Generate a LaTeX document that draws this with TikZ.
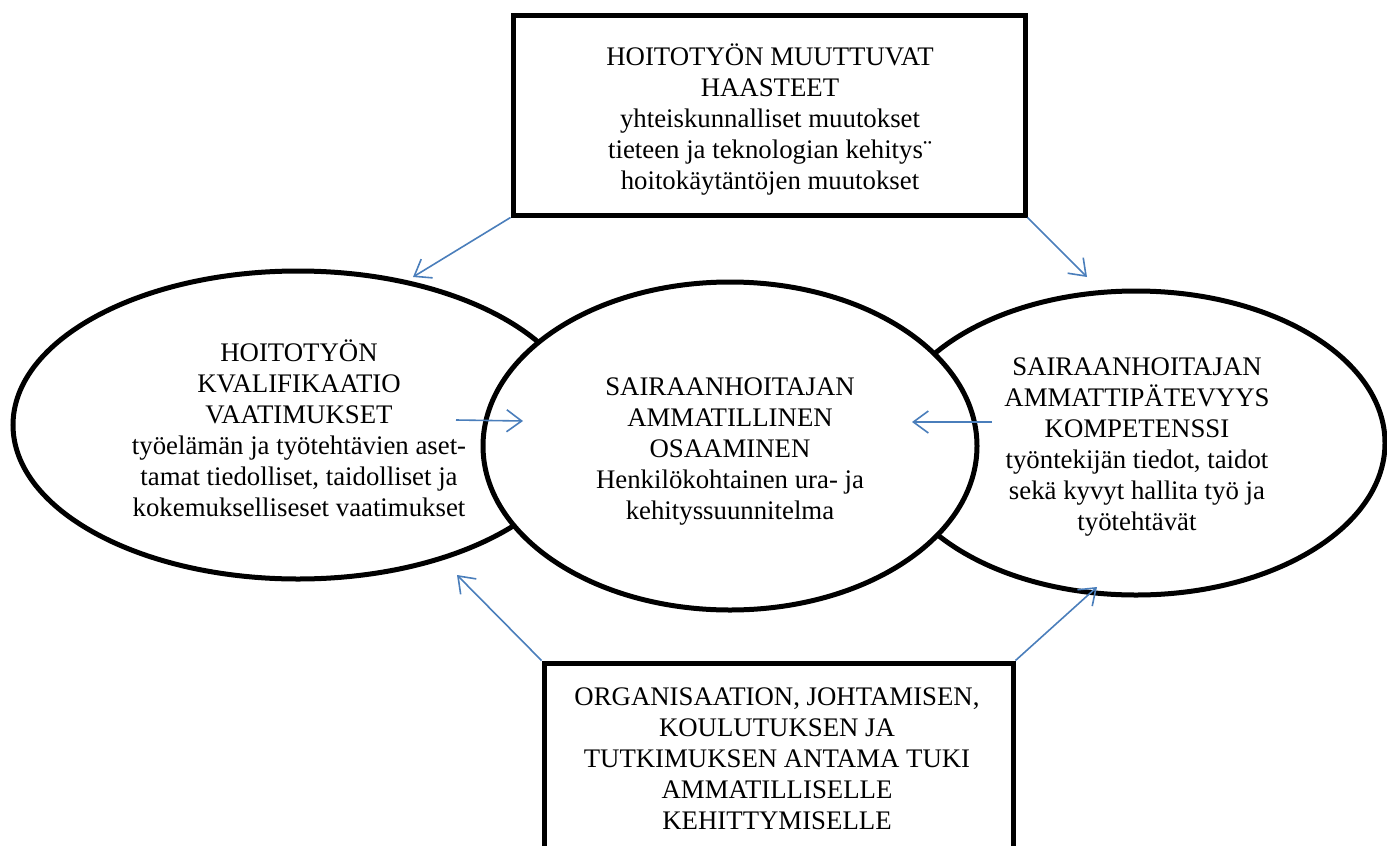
\documentclass[tikz,border=0pt]{standalone}
\usepackage{fontspec}
\setmainfont{Liberation Serif}
\usetikzlibrary{shapes.geometric,arrows.meta}
\definecolor{arrowblue}{RGB}{74,126,187}
\begin{document}
\begin{tikzpicture}[x=1pt,y=-1pt,
  shapeline/.style={draw=black,line width=5pt,fill=white,inner sep=0pt},
  oval/.style={shapeline,ellipse},
  boxnode/.style={shapeline,rectangle},
  txt/.style={align=center,font=\fontsize{26.8}{31}\selectfont,inner sep=0pt,anchor=base},
  conn/.style={draw=arrowblue,line width=1.6pt,-{Straight Barb[length=15pt,width=22pt,line width=1.6pt]}}]
\useasboundingbox (0,0) rectangle (1387,846);
\clip (0,0) rectangle (1387,846);
% shapes
\node[oval,minimum width=570pt,minimum height=308pt] (leftoval) at (298,425) {};
\node[oval,minimum width=498pt,minimum height=304pt] (rightoval) at (1136,443) {};
\node[oval,minimum width=494pt,minimum height=328pt] (midoval) at (730,446) {};
\node[boxnode,minimum width=512pt,minimum height=200pt] (topbox) at (769,115) {};
\node[boxnode,minimum width=469pt,minimum height=240pt] (bottombox) at (778.5,783) {};
% texts (anchored at the baseline of their last line)
\node[txt] (toptext) at (770,189) {HOITOTYÖN MUUTTUVAT\\HAASTEET\\yhteiskunnalliset muutokset\\tieteen ja teknologian kehitys¨\\hoitokäytäntöjen muutokset};
\node[txt] (lefttext) at (299,516) {HOITOTYÖN\\KVALIFIKAATIO\\VAATIMUKSET\\työelämän ja työtehtävien aset-\\tamat tiedolliset, taidolliset ja\\kokemukselliseset vaatimukset};
\node[txt] (midtext) at (730,519) {SAIRAANHOITAJAN\\AMMATILLINEN\\OSAAMINEN\\Henkilökohtainen ura- ja\\kehityssuunnitelma};
\node[txt] (righttext) at (1137,530) {SAIRAANHOITAJAN\\AMMATTIPÄTEVYYS\\KOMPETENSSI\\työntekijän tiedot, taidot\\sekä kyvyt hallita työ ja\\työtehtävät};
\node[txt] (bottomtext) at (777,829) {ORGANISAATION, JOHTAMISEN,\\KOULUTUKSEN JA\\TUTKIMUKSEN ANTAMA TUKI\\AMMATILLISELLE\\KEHITTYMISELLE};
% connector ends
\coordinate (tipL) at (413,277);
\coordinate (tipR) at (1087,277);
\coordinate (fromL) at (456,420);
\coordinate (tipM1) at (523,421);
\coordinate (fromR) at (992,422);
\coordinate (tipM2) at (912,422);
\coordinate (tipBL) at (457,575);
\coordinate (tipBR) at (1097,587);
% connectors
\draw[conn] (topbox.south west) -- (tipL);
\draw[conn] (topbox.south east) -- (tipR);
\draw[conn] (fromL) -- (tipM1);
\draw[conn] (fromR) -- (tipM2);
\draw[conn] (bottombox.north west) -- (tipBL);
\draw[conn] (bottombox.north east) -- (tipBR);
\end{tikzpicture}
\end{document}
